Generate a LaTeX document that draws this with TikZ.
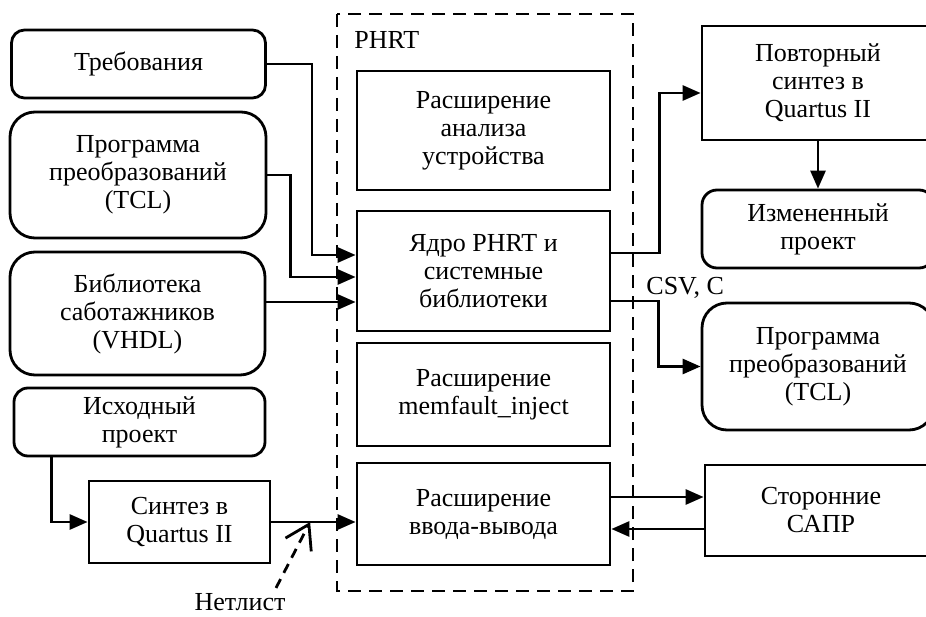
\documentclass[tikz,border=0pt]{standalone}
\usepackage{fontspec}
\setmainfont{Liberation Serif}
\usetikzlibrary{arrows.meta,calc}

\begin{document}
\begin{tikzpicture}[x=1pt,y=-1pt,line width=2.8pt,
    font=\fontsize{26}{28}\selectfont,
    box/.style={draw,align=center,inner sep=0pt},
    arr/.style={-{Triangle[length=18pt,width=15pt]}}]
    \useasboundingbox (0,0) rectangle (926,617);
    \clip (0,0) rectangle (926,617);
    % left column
    \node[box,rounded corners=13pt,minimum width=254,minimum height=68] (req) at (138.5,64) {Требования};
    \node[box,rounded corners=25pt,minimum width=256,minimum height=126] (prog) at (138,175) {Программа\\преобразований\\(TCL)};
    \node[box,rounded corners=25pt,minimum width=255,minimum height=123] (lib) at (137.5,313.5) {Библиотека\\саботажников\\(VHDL)};
    \node[box,rounded corners=14pt,minimum width=251,minimum height=68] (src) at (139.5,422) {Исходный\\проект};
    \node[box,minimum width=181,minimum height=82] (synth) at (179.5,522) {Синтез в\\Quartus II};
    % PHRT
    \draw[dash pattern=on 13pt off 8pt] (337,14) rectangle (633,591);
    \node[anchor=base west,inner sep=0pt] (phrt) at (353,49) {PHRT};
    \foreach \nm/\y/\h/\txt in {%
        ana/130.5/119/{Расширение\\анализа\\устройства},
        core/271/120/{Ядро PHRT и\\системные\\библиотеки},
        mem/394.5/103/{Расширение\\memfault\_inject},
        io/514/102/{Расширение\\ввода-вывода}}{
        \node[box,minimum width=253,minimum height=\h] (\nm) at (483.5,\y) {\txt};
    }
    % right column
    \node[box,minimum width=232,minimum height=114] (resynth) at (818,83) {Повторный\\синтез в\\Quartus II};
    \node[box,rounded corners=15pt,minimum width=232,minimum height=78] (changed) at (818,229) {Измененный\\проект};
    \node[box,rounded corners=25pt,minimum width=232,minimum height=127] (tcl) at (818,366.5) {Программа\\преобразований\\(TCL)};
    \node[box,minimum width=232,minimum height=91] (ext) at (821,510.5) {Сторонние\\САПР};
    % connectors
    \coordinate (in1) at ($(core.west)+(0,-16)$);
    \coordinate (in2) at ($(core.west)+(0,6)$);
    \coordinate (in3) at ($(core.west)+(0,31)$);
    \draw[arr] (req.east) -- ++(45,0) |- (in1);
    \draw[arr] (prog.east) -- ++(23,0) |- (in2);
    \draw[arr] (lib.east |- in3) -- (in3);
    \draw[arr] ($(src.south west)+(39,0)$) |- (synth.west);
    \draw[arr] (synth.east) -- (synth.east -| io.west);
    \draw[arr] ($(core.east)+(0,-18)$) -- ++(48,0) |- ($(resynth.west)+(0,10)$);
    \draw[arr] ($(core.east)+(0,30)$) -- ++(47,0) |- (tcl.west);
    \node[anchor=base west,inner sep=0pt] (csv) at (645,295) {CSV, C};
    \draw[arr] (resynth.south) -- (changed.north);
    \draw[arr] ($(io.east)+(0,-17)$) -- ($(io.east -| ext.west)+(0,-17)$);
    \draw[arr] ($(io.east -| ext.west)+(0,15)$) -- ($(io.east)+(0,15)$);
    \node[inner sep=0pt] (net) at (240,602) {Нетлист};
    \coordinate (nettip) at ($(synth.east)!0.46!(synth.east -| io.west)$);
    \draw[dash pattern=on 10pt off 7pt,-{Straight Barb[length=23pt,width=29pt]}] ($(net.north)+(36,-4)$) -- (nettip);
\end{tikzpicture}
\end{document}
